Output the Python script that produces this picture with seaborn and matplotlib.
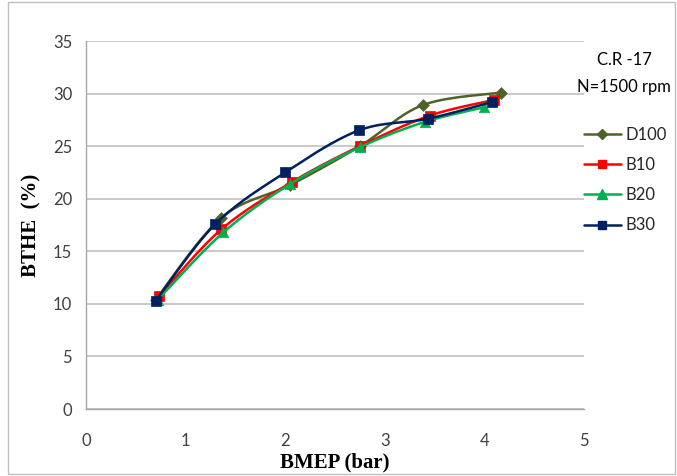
import numpy as np
import pandas as pd
import matplotlib
matplotlib.use("Agg")
import matplotlib.pyplot as plt
import seaborn as sns
from matplotlib.lines import Line2D
from matplotlib.patches import Rectangle

# ---- data ----
series_names = ["D100", "B10", "B20", "B30"]
d100_x = [0.70, 1.36, 2.05, 2.75, 3.38, 4.17]
d100_y = [10.4, 18.2, 21.3, 25.0, 28.9, 30.1]
b10_x = [0.73, 1.36, 2.07, 2.75, 3.45, 4.10]
b10_y = [10.7, 17.1, 21.6, 25.0, 27.9, 29.4]
b20_x = [0.72, 1.38, 2.05, 2.75, 3.40, 4.00]
b20_y = [10.4, 16.8, 21.4, 24.9, 27.3, 28.7]
b30_x = [0.70, 1.30, 2.00, 2.74, 3.43, 4.08]
b30_y = [10.3, 17.6, 22.5, 26.5, 27.6, 29.2]
x_ticks = [0, 1, 2, 3, 4, 5]
y_ticks = [0, 5, 10, 15, 20, 25, 30, 35]
annot_lines = ["C.R -17", "N=1500 rpm"]

xs = [d100_x, b10_x, b20_x, b30_x]
ys = [d100_y, b10_y, b20_y, b30_y]
colors = ["#4f6228", "#ff0000", "#00b050", "#002060"]
markers = ["D", "s", "^", "s"]
msizes = [6, 7, 7.5, 7]

df = pd.concat([pd.DataFrame({"x": x, "y": y, "series": n})
                for n, x, y in zip(series_names, xs, ys)], ignore_index=True)


def smooth(x, y, n=30):
    # Catmull-Rom style smoothing (like Excel's smoothed lines)
    x = np.asarray(x, float); y = np.asarray(y, float)
    P = np.column_stack([x, y])
    P = np.vstack([P[0], P, P[-1]])
    out = []
    t = np.linspace(0, 1, n)
    for i in range(1, len(P) - 2):
        p0, p1, p2, p3 = P[i - 1], P[i], P[i + 1], P[i + 2]
        c1 = p1 + (p2 - p0) / 6.0
        c2 = p2 - (p3 - p1) / 6.0
        seg = ((1 - t) ** 3)[:, None] * p1 + (3 * (1 - t) ** 2 * t)[:, None] * c1 \
            + (3 * (1 - t) * t ** 2)[:, None] * c2 + (t ** 3)[:, None] * p2
        out.append(seg if i == 1 else seg[1:])
    s = np.vstack(out)
    return s[:, 0], s[:, 1]


sns.set_style("white")
plt.rcParams["font.family"] = ["Lato", "DejaVu Sans"]

fig = plt.figure(figsize=(6.77, 4.76), dpi=100)
ax = fig.add_axes([86 / 677, 1 - 409 / 476, (584 - 86) / 677, (409 - 41) / 476])

for i, name in enumerate(series_names):
    sx, sy = smooth(xs[i], ys[i])
    ax.plot(sx, sy, color=colors[i], lw=1.8, zorder=2 + i)
    sub = df[df["series"] == name]
    sns.scatterplot(data=sub, x="x", y="y", ax=ax, color=colors[i], marker=markers[i],
                    s=msizes[i] ** 2, edgecolor=colors[i], linewidth=0.5,
                    zorder=3 + i, legend=False)

ax.set_xlim(0, 5)
ax.set_ylim(0, 35)
ax.set_xticks(x_ticks)
ax.set_yticks(y_ticks)
ax.set_xticklabels([str(v) for v in x_ticks])
ax.set_yticklabels([str(v) for v in y_ticks])
ax.yaxis.grid(True, color="#c0c0c0", lw=1.2)
ax.xaxis.grid(False)
for s in ["top", "right"]:
    ax.spines[s].set_visible(False)
for s in ["left", "bottom"]:
    ax.spines[s].set_color("#a6a6a6")
    ax.spines[s].set_linewidth(1.0)
ax.tick_params(axis="both", which="major", direction="out", length=5, width=1,
               color="#a6a6a6", labelsize=12, labelcolor="#404040", pad=5)
ax.tick_params(axis="x", pad=12)

ax.set_xlabel("BMEP (bar)", family="Liberation Serif", fontweight="bold",
              fontsize=15, color="black", labelpad=3)
ax.set_ylabel("BTHE  (%)", family="Liberation Serif", fontweight="bold",
              fontsize=15, color="black", labelpad=8)

fig.text(624 / 677, 1 - 60 / 476, annot_lines[0], ha="center", va="center",
         fontsize=12, color="black")
fig.text(624 / 677, 1 - 87 / 476, annot_lines[1], ha="center", va="center",
         fontsize=12, color="black")

handles = [Line2D([0], [0], color=colors[i], marker=markers[i], lw=1.8,
                  markersize=msizes[i] - 1, markeredgecolor=colors[i])
           for i in range(len(series_names))]
fig.legend(handles, series_names, loc="upper left",
           bbox_to_anchor=(584 / 677, 1 - 127 / 476), frameon=False,
           fontsize=12, handlelength=2.2, handletextpad=0.3, labelspacing=0.85,
           borderaxespad=0, borderpad=0)

fig.patches.append(Rectangle((8 / 677, 2 / 476), 667 / 677, 472 / 476,
                             transform=fig.transFigure, fill=False,
                             edgecolor="#bfbfbf", lw=1))

fig.savefig("out.png", dpi=100)
